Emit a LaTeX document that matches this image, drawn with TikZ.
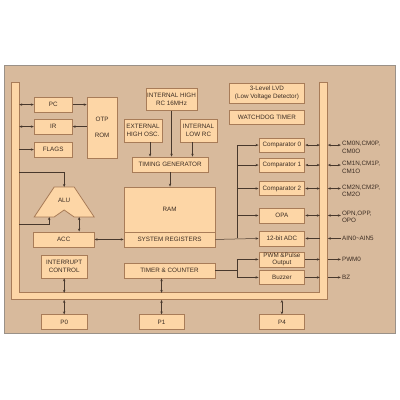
\documentclass[tikz,border=0pt]{standalone}
\usepackage{fontspec}
\setmainfont{Liberation Sans}
\usetikzlibrary{arrows.meta}
\definecolor{bgtan}{RGB}{216,186,156}
\definecolor{boxfill}{RGB}{253,214,166}
\definecolor{boxline}{RGB}{168,124,88}
\definecolor{wirecol}{RGB}{72,56,44}
\definecolor{txtcol}{RGB}{60,45,35}
\tikzset{
  blk/.style={draw=boxline, fill=boxfill, line width=0.8pt, inner sep=0pt, align=center,
    text=txtcol, font=\fontsize{6.3}{7.6}\selectfont},
  pinlbl/.style={anchor=west, align=left, inner sep=1pt, text=txtcol,
    font=\fontsize{6.3}{7.6}\selectfont},
  buswire/.style={draw=wirecol, line width=0.5pt},
  busbar/.style={draw=boxline, fill=boxfill, line width=0.8pt}
}

\begin{document}
\begin{tikzpicture}[x=1pt, y=-1pt, >={Stealth[length=3pt,width=2.4pt]}, every path/.append style={buswire}]
\useasboundingbox (0,0) rectangle (400,400);
\fill[white, draw=none] (0,0) rectangle (400,400);
% board
\draw[fill=bgtan, draw=gray!70!bgtan] (4,65) rectangle (395,333);

% internal bus
\draw[busbar] (11,82) -- (11,300) -- (328,300) -- (328,82) -- (320,82) -- (320,293)
  -- (19,293) -- (19,82) -- cycle;
\coordinate (busL) at (19,82);
\coordinate (busR) at (320,82);
\coordinate (busRo) at (328,82);
\coordinate (busB) at (0,293);
\coordinate (busBo) at (0,300);

% program side
\node[blk, minimum width=38, minimum height=15] (pc) at (53,104.5) {PC};
\node[blk, minimum width=38, minimum height=15] (ir) at (53,126.5) {IR};
\node[blk, minimum width=38, minimum height=15] (flags) at (53,149.5) {FLAGS};
\node[blk, minimum width=30, minimum height=61] (rom) at (102,127.5) {OTP\\[8pt]ROM};

% clocks
\node[blk, minimum width=51, minimum height=22] (ihrc) at (171.5,99) {INTERNAL HIGH\\RC 16MHz};
\node[blk, minimum width=38, minimum height=23] (ext) at (143,130.5) {EXTERNAL\\HIGH OSC.};
\node[blk, minimum width=37, minimum height=23] (ilrc) at (198.5,130.5) {INTERNAL\\LOW RC};
\node[blk, minimum width=76, minimum height=15] (tg) at (170,164.5) {TIMING GENERATOR};
\node[blk, minimum width=76, minimum height=20] (lvd) at (267,93) {3-Level LVD\\(Low Voltage Detector)};
\node[blk, minimum width=76, minimum height=14] (wdt) at (267,117) {WATCHDOG TIMER};

% alu
\draw[busbar] (34,217) -- (54,187) -- (74,187) -- (94,217) -- (74,217) -- (64,210)
  -- (54,217) -- cycle;
\node[text=txtcol, font=\fontsize{6.3}{7.6}\selectfont] (alu) at (64,200) {ALU};
\coordinate (aluTop) at (64,187);
\coordinate (aluL) at (49,217);
\coordinate (aluR) at (79,217);
\coordinate (aluTap) at (19,172);
\coordinate (aluTapB) at (19,224);
\node[blk, minimum width=61, minimum height=15] (acc) at (63.5,239.5) {ACC};

% memory
\node[blk, minimum width=91, minimum height=45] (ram) at (169.5,209.5) {RAM};
\node[blk, minimum width=91, minimum height=15] (sysreg) at (169.5,239.5) {SYSTEM REGISTERS};
\node[blk, minimum width=46, minimum height=23] (intc) at (64,266.5) {INTERRUPT\\CONTROL};
\node[blk, minimum width=91, minimum height=15] (timer) at (169.5,270.5) {TIMER \& COUNTER};

% peripherals
\node[blk, minimum width=46, minimum height=14] (cmp0) at (282,145) {Comparator 0};
\node[blk, minimum width=46, minimum height=14] (cmp1) at (282,165) {Comparator 1};
\node[blk, minimum width=46, minimum height=14] (cmp2) at (282,188.5) {Comparator 2};
\node[blk, minimum width=46, minimum height=15] (opa) at (282,215.5) {OPA};
\node[blk, minimum width=46, minimum height=15] (adc) at (282,238.5) {12-bit ADC};
\node[blk, minimum width=46, minimum height=15] (pwm) at (282,259.5) {PWM \&Pulse\\Output};
\node[blk, minimum width=46, minimum height=15] (buzz) at (282,277.5) {Buzzer};

% ports
\node[blk, minimum width=46, minimum height=15] (p0) at (64,322.5) {P0};
\node[blk, minimum width=45, minimum height=15] (p1) at (161.5,322.5) {P1};
\node[blk, minimum width=46, minimum height=15] (p4) at (282,322.5) {P4};

% pin names
\node[pinlbl] (lcm0) at (341,147) {CM0N,CM0P,\\CM0O};
\node[pinlbl] (lcm1) at (341,167.5) {CM1N,CM1P,\\CM1O};
\node[pinlbl] (lcm2) at (341,191) {CM2N,CM2P,\\CM2O};
\node[pinlbl] (lopa) at (341,217) {OPN,OPP,\\OPO};
\node[pinlbl] (lain) at (341,238.5) {AIN0\textasciitilde AIN5};
\node[pinlbl] (lpwm) at (341,259.5) {PWM0};
\node[pinlbl] (lbz) at (341,277.5) {BZ};

% bus links, left
\draw[<->] (pc.west -| busL) -- (pc.west);
\draw[<->] (ir.west -| busL) -- (ir.west);
\draw[->] (flags.west -| busL) -- (flags.west);
\draw[->] (pc.east) -- (pc.east -| rom.west);
\draw[->] (ir.east -| rom.west) -- (ir.east);
\draw[->] (aluTap) -- (aluTop |- aluTap) -- (aluTop);
\draw[->] (aluTapB) -- (aluL |- aluTapB) -- (aluL);
\draw[<->] (aluR) -- (aluR |- acc.north);
\draw[<->] (sysreg.west) -- (acc.east);

% clock tree
\draw[->] ([xshift=7]ext.south) -- ([xshift=7]ext.south |- tg.north);
\draw[->] (ihrc.south) -- (ihrc.south |- tg.north);
\draw[->] ([xshift=-6]ilrc.south) -- ([xshift=-6]ilrc.south |- tg.north);
\draw[->] (tg.south) -- (tg.south |- ram.north);

% analog feed
\coordinate (feed) at (237,0);
\draw[->] (sysreg.east) -- (adc.west);
\draw (feed |- adc.west) -- (feed |- cmp0.west);
\foreach \blk in {cmp0,cmp1,cmp2,opa}
  \draw[->] (feed |- \blk.west) -- (\blk.west);
\draw (timer.east) -- (feed |- timer.east);
\draw (feed |- pwm.west) -- (feed |- buzz.west);
\draw[->] (feed |- pwm.west) -- (pwm.west);
\draw[->] (feed |- buzz.west) -- (buzz.west);

% bus links, right
\draw[<->] (cmp0.east) -- (cmp0.east -| busR);
\draw[<->] (cmp0.east -| busRo) -- (cmp0.east -| lcm0.west);
\draw[<->] (cmp1.east) -- (cmp1.east -| busR);
\draw[<->] (cmp1.east -| busRo) -- (cmp1.east -| lcm1.west);
\draw[<->] (cmp2.east) -- (cmp2.east -| busR);
\draw[<->] (cmp2.east -| busRo) -- (cmp2.east -| lcm2.west);
\draw[<->] (opa.east) -- (opa.east -| busR);
\draw[<->] (opa.east -| busRo) -- (opa.east -| lopa.west);
\draw[->] (adc.east -| busR) -- (adc.east);
\draw[->] (lain.west) -- (adc.east -| busRo);
\draw[->] (pwm.east) -- (pwm.east -| busR);
\draw[->] (pwm.east -| busRo) -- (lpwm.west);
\draw[->] (buzz.east) -- (buzz.east -| busR);
\draw[->] (buzz.east -| busRo) -- (lbz.west);

% bus links, bottom
\draw[<->] (intc.south) -- (intc.south |- busB);
\draw[<->] (timer.south -| p1.north) -- (p1.north |- busB);
\draw[<->] (p0.north |- busBo) -- (p0.north);
\draw[<->] (p1.north |- busBo) -- (p1.north);
\draw[<->] (p4.north |- busBo) -- (p4.north);
\end{tikzpicture}
\end{document}
